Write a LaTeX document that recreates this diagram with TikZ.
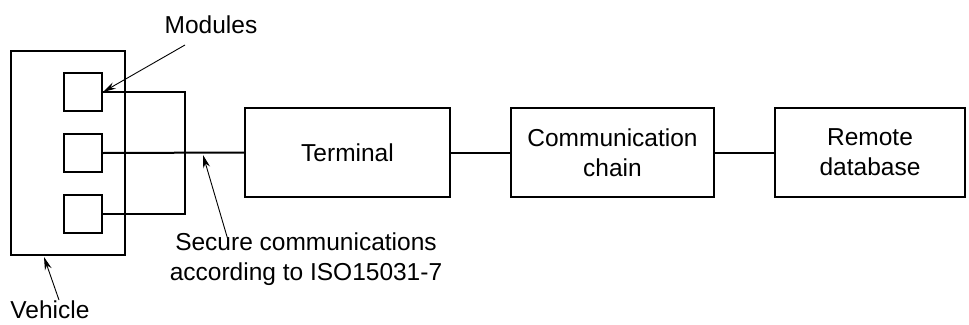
\documentclass[tikz,border=0pt]{standalone}
\usepackage{fontspec}
\setmainfont{Liberation Sans}
\usetikzlibrary{arrows.meta, positioning}

\tikzset{
    blk/.style={draw, line width=2pt, align=center, inner sep=0pt},
    wire/.style={line width=2pt},
    pointer/.style={line width=0.9pt, -{Stealth[length=13pt, width=7pt]}},
    lbl/.style={align=center, inner sep=0pt}
}

\begin{document}
\begin{tikzpicture}[x=1pt, y=-1pt, font=\fontsize{24.5}{30}\selectfont]
    \useasboundingbox (0,0) rectangle (969,324);

    % Vehicle with its modules
    \node[blk, minimum width=114pt, minimum height=204pt] (vehicle) at (68,153) {};
    \foreach \i/\y in {1/92, 2/153, 3/214} {
        \node[blk, minimum width=38pt, minimum height=38pt] (m\i) at (83,\y) {};
    }

    % Chain of boxes
    \node[blk, minimum width=205pt, minimum height=89pt] (term) at (347.5,152.5) {Terminal};
    \node[blk, minimum width=203pt, minimum height=89pt] (chain) at (612.5,152.5) {Communication\\chain};
    \node[blk, minimum width=190pt, minimum height=89pt] (remote) at (870,152.5) {Remote\\database};

    % Wiring
    \coordinate (bus) at (185,153);
    \draw[wire] (m1.east) -| (bus);
    \draw[wire] (m3.east) -| (bus);
    \draw[wire] (m2.east) -- (term.west);
    \draw[wire] (term) -- (chain);
    \draw[wire] (chain) -- (remote);

    % Labels
    \node[lbl] (modlbl) at (211,25) {Modules};
    \node[lbl] (seclbl) at (306,259) {Secure communications\\according to ISO15031-7};
    \node[lbl] (vehlbl) at (50,310) {Vehicle};

    \coordinate (modtail) at (185,45);
    \coordinate (sectail) at (228,240);
    \coordinate (sectip) at (203,155);
    \coordinate (vehtail) at (59,300);
    \coordinate (vehtip) at (44,257);
    \draw[pointer] (modtail) -- (m1.east);
    \draw[pointer] (sectail) -- (sectip);
    \draw[pointer] (vehtail) -- (vehtip);
\end{tikzpicture}
\end{document}
